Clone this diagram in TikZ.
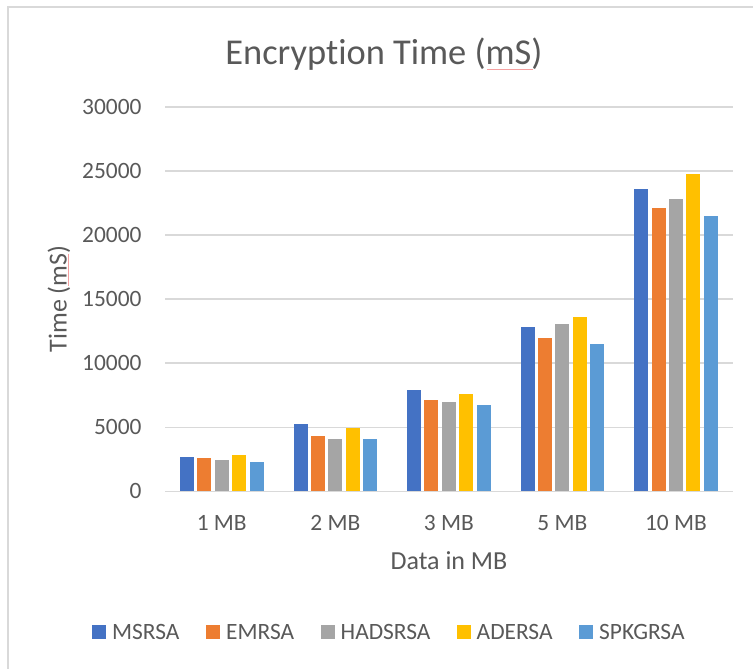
\documentclass[tikz,border=0pt]{standalone}
\usepackage{fontspec}
\setmainfont{Carlito}[Ligatures={NoCommon}]
\definecolor{msrsa}{HTML}{4472C4}
\definecolor{emrsa}{HTML}{ED7D31}
\definecolor{hadsrsa}{HTML}{A5A5A5}
\definecolor{adersa}{HTML}{FFC000}
\definecolor{spkgrsa}{HTML}{5B9BD5}
\definecolor{labelgrey}{HTML}{595959}
\definecolor{gridgrey}{HTML}{D9D9D9}
\definecolor{framegrey}{HTML}{D9D9D9}
\definecolor{spellred}{HTML}{F4A0A0}
\tikzset{
  txt/.style={inner sep=0pt, text=labelgrey},
  ticklabel/.style={txt, anchor=base east, font=\fontsize{23.4}{28}\selectfont},
  catlabel/.style={txt, anchor=base, font=\fontsize{23.4}{28}\selectfont},
  axistitle/.style={txt, anchor=base, font=\fontsize{26}{31}\selectfont},
  legtext/.style={txt, anchor=base west, font=\fontsize{23.4}{28}\selectfont},
  legkey/.style={inner sep=0pt, minimum size=14pt, anchor=north west},
  gridline/.style={draw=gridgrey, line width=1.8pt},
  squiggle/.style={draw=spellred, line width=0.7pt},
}
\begin{document}
\begin{tikzpicture}[x=1pt,y=-1pt]
\useasboundingbox (0,0) rectangle (753,669);
\fill[white] (0,0) rectangle (753,669);
% chart frame (only the top and left edges fall inside the page)
\draw[framegrey, line width=2pt] (7.5,669) -- (7.5,7.5) -- (753,7.5);

% title (kern keeps "t" and "i" as separate glyphs)
\node[txt, anchor=base, font=\fontsize{36.4}{44}\selectfont] (title) at (384,65) {Encrypt\kern0pt ion Time (mS)};
\coordinate (tsqA) at (487,69);
\coordinate (tsqB) at (533,69);
\draw[squiggle] (tsqA) -- (tsqB);

% horizontal grid and value labels
\foreach \k/\lab in {0/0,1/5000,2/10000,3/15000,4/20000,5/25000,6/30000}{
  \pgfmathsetmacro\gy{491.5-\k*64.083}
  \coordinate (gl\k) at (165,\gy);
  \coordinate (gr\k) at (732.7,\gy);
  \draw[gridline] (gl\k) -- (gr\k);
  \node[ticklabel] (tick\k) at (141.7,\gy+7.4) {\lab};
}

% bars, values in thousands of mS
\foreach \va/\vb/\vc/\vd/\ve [count=\g from 0] in {
    2.69/2.64/2.43/2.85/2.28,
    5.24/4.33/4.12/4.98/4.07,
    7.92/7.14/6.98/7.61/6.75,
    12.86/11.98/13.04/13.61/11.53,
    23.58/22.14/22.82/24.80/21.50}{
  \pgfmathsetmacro\cx{165+113.54*(\g+0.5)}
  \foreach \v/\c [count=\s from 0] in {\va/msrsa,\vb/emrsa,\vc/hadsrsa,\vd/adersa,\ve/spkgrsa}{
    \fill[\c] ({\cx+(\s-2)*17.4-7},490.7) rectangle ({\cx+(\s-2)*17.4+7},{491.5-\v*12.817});
  }
}

% category labels
\foreach \lab [count=\g from 0] in {1 MB,2 MB,3 MB,5 MB,10 MB}{
  \pgfmathsetmacro\cx{165+113.54*(\g+0.5)}
  \node[catlabel] (cat\g) at (\cx,530) {\lab};
}

% axis titles
\node[axistitle] (xtitle) at (449,569.5) {Data in MB};
\node[axistitle, rotate=90] (ytitle) at (66.5,299) {Time (mS)};
\coordinate (ysqA) at (68.5,253.6);
\coordinate (ysqB) at (68.5,286.3);
\draw[squiggle] (ysqA) -- (ysqB);

% legend
\foreach \x/\c/\lab in {92/msrsa/MSRSA,206/emrsa/EMRSA,320.5/hadsrsa/HADSRSA,456.5/adersa/ADERSA,579/spkgrsa/SPKGRSA}{
  \node[legkey, fill=\c] (key\c) at (\x,625) {};
  \node[legtext] (leg\c) at (\x+20,639.5) {\lab};
}
\end{tikzpicture}
\end{document}
